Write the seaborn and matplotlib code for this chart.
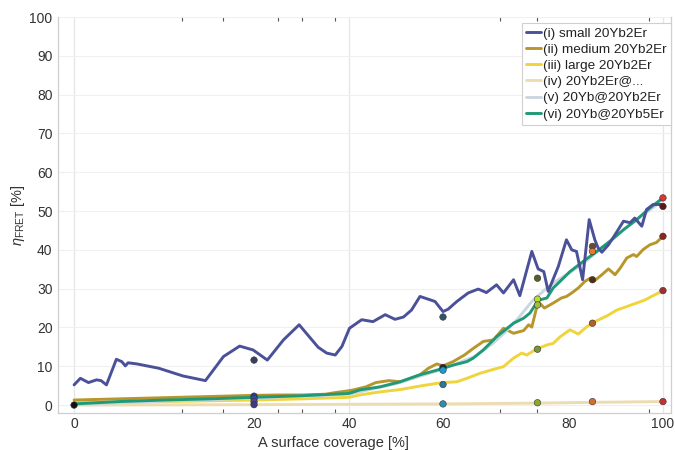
import numpy as np
import pandas as pd
import matplotlib
matplotlib.use("Agg")
import matplotlib.pyplot as plt
import seaborn as sns

# curves: A surface coverage [%] vs eta_FRET [%]
x_i = [0, 0.7, 1.6, 2.5, 3.0, 3.6, 4.1, 4.7, 5.3, 5.7, 6.0, 7.0, 9.4, 12.1, 14.6, 16.6, 18.4, 19.9,
       22.8, 26.2, 29.5, 33.5, 35.3, 37.1, 38.5, 40.1, 42.7, 45.1, 47.7, 49.8, 51.6, 53.3, 55.1,
       58.3, 60.0, 60.8, 62.2, 64.0, 65.6, 66.9, 68.5, 69.6, 71.2, 72.2, 74.1, 75.1, 76.0, 76.7,
       78.3, 79.6, 80.6, 81.6, 82.9, 84.3, 85.5, 86.2, 87.0, 88.4, 89.8, 91.6, 93.0, 94.0, 95.5,
       96.5, 97.9, 100]
y_i = [5.2, 6.9, 5.8, 6.5, 6.3, 5.2, 8.2, 11.8, 11.2, 10.1, 10.9, 10.6, 9.5, 7.5, 6.3, 12.5, 15.2, 14.2,
       11.6, 16.8, 20.7, 14.9, 13.4, 12.9, 15.1, 19.8, 22.0, 21.5, 23.3, 22.1, 22.7, 24.5, 28.0,
       26.7, 24.1, 24.7, 26.7, 28.9, 29.9, 29.0, 31.0, 28.9, 32.3, 28.2, 39.6, 35.1, 34.4, 29.3,
       35.7, 42.6, 40.0, 39.6, 32.3, 47.8, 42.6, 40.5, 39.4, 41.3, 43.9, 47.4, 47.0, 48.2, 46.1,
       50.4, 51.7, 51.7]

x_ii = [0, 5, 10, 15, 20, 25, 30, 35, 37, 40, 40.9, 43.6, 45.7, 48.5, 50.9, 55.1, 56.9, 58.7, 60,
        61.6, 63.4, 64.8, 66.4, 68.0, 69.6, 71.2, 72.8, 73.6, 74.1, 75.1, 76.1, 77.5, 78.8, 79.6,
        80.6, 82.0, 83.4, 84.5, 85.5, 87.0, 88.4, 89.8, 90.9, 92.3, 93.7, 94.4, 95.8, 97.2, 98.6, 100]
y_ii = [1.3, 1.6, 1.9, 2.2, 2.5, 2.6, 2.6, 2.8, 3.2, 3.7, 3.9, 4.7, 5.8, 6.3, 6.0, 7.8, 9.5, 10.6, 10.1,
        11.2, 12.9, 14.6, 16.4, 16.8, 19.8, 18.5, 19.2, 20.7, 20.1, 26.7, 25.0, 26.3, 27.6, 28.0,
        28.9, 30.2, 31.9, 32.7, 32.1, 33.6, 35.1, 33.6, 35.3, 37.9, 38.8, 38.3, 40.1, 41.3, 41.9, 43.5]

x_iii = [0, 10, 20, 30, 40, 42.3, 46.6, 50.9, 55.1, 58.7, 60, 62.2, 63.8, 65.9, 68.0, 69.6, 71.2,
         72.5, 73.3, 74.8, 76.5, 77.5, 78.6, 80.2, 82.0, 83.8, 85.5, 88.1, 90.2, 92.3, 94.4, 96.2,
         97.9, 100]
y_iii = [0.6, 0.9, 1.3, 1.6, 2.0, 2.6, 3.4, 4.0, 4.9, 5.6, 5.8, 6.0, 6.9, 8.2, 9.2, 9.9, 12.1,
         13.4, 12.9, 14.4, 15.5, 15.9, 17.6, 19.4, 18.3, 20.2, 21.5, 23.0, 24.5, 25.4, 26.3, 27.1,
         28.2, 29.5]

x_iv = [0, 20, 40, 60, 75, 85, 100]
y_iv = [0.0, 0.1, 0.2, 0.3, 0.5, 0.7, 0.9]

x_v = [0, 20, 40, 50, 60, 65, 68, 70, 72, 74, 75, 76, 78, 80, 83, 86, 89, 92, 95, 98, 100]
y_v = [0.2, 1.8, 2.8, 5.5, 9.3, 12.5, 16.0, 19.0, 22.5, 26.5, 28.0, 29.5, 32.0, 34.0, 36.5, 39.5,
       42.5, 45.5, 48.3, 51.0, 53.0]

x_vi = [0, 5, 10, 15, 20, 25, 30, 35, 40, 42.3, 46.6, 50.9, 55.1, 58.7, 60, 61.6, 63.8, 64.8, 66.4,
        68.5, 71.2, 72.8, 73.8, 75.1, 76.5, 77.5, 78.6, 80.2, 83.0, 85.9, 88.7, 91.6, 94.4, 97.2, 100]
y_vi = [0.3, 0.9, 1.3, 1.6, 2.0, 2.2, 2.4, 2.7, 3.0, 3.9, 4.7, 6.0, 7.8, 9.0, 9.5, 10.3, 11.2, 12.1,
        14.2, 17.6, 21.1, 22.4, 23.7, 27.0, 27.6, 30.2, 31.9, 34.4, 37.0, 39.6, 42.2, 45.2, 47.8,
        50.8, 53.4]

labels = ["(i) small 20Yb2Er", "(ii) medium 20Yb2Er", "(iii) large 20Yb2Er",
          "(iv) 20Yb2Er@...", "(v) 20Yb@20Yb2Er", "(vi) 20Yb@20Yb5Er"]
colors = ["#4b5199", "#b8962c", "#f0d43c", "#ecdcb2", "#cbd6e0", "#1f9a78"]

# measured points
dot_x = [0, 20, 20, 20, 20, 20, 60, 60, 60, 60, 60, 75, 75, 75, 75, 75,
         85, 85, 85, 85, 85, 100, 100, 100, 100, 100]
dot_y = [0, 11.6, 2.3, 1.7, 0.9, 0.1, 22.7, 9.7, 9.0, 5.3, 0.3, 32.7, 27.3, 25.8, 14.4, 0.6,
         40.9, 39.6, 32.3, 21.1, 0.9, 53.4, 51.2, 43.5, 29.5, 0.9]
dot_c = ["#111111", "#3a3d5e", "#2e3b8f", "#3848a8", "#4a4a90", "#3f3a78",
         "#2d5563", "#1e2a40", "#1e9ad0", "#2a7a96", "#2a8fb3",
         "#55602a", "#b8e02a", "#9cc23a", "#7a9630", "#8aaa2a",
         "#6b4a32", "#e8782a", "#4a2e1e", "#b0602a", "#d07030",
         "#e03333", "#5a1a1a", "#8a2820", "#a03030", "#c83030"]

xticks = [0, 20, 40, 60, 80, 100]
xminor = [0, 12, 16.5, 25, 30, 37, 40, 69, 75, 97, 100]

# the x axis of the original is stretched piecewise
knot_c = np.array([0, 20, 40, 60, 80, 100])
knot_p = np.array([0, 180, 275, 369, 495, 589])


def fwd(x):
    x = np.asarray(x, float)
    p = np.interp(x, knot_c, knot_p)
    p = np.where(x < 0, x * 9.0, p)
    return np.where(x > 100, 589 + (x - 100) * 4.7, p)


def inv(p):
    p = np.asarray(p, float)
    x = np.interp(p, knot_p, knot_c)
    x = np.where(p < 0, p / 9.0, x)
    return np.where(p > 589, 100 + (p - 589) / 4.7, x)


sns.set_style("white")
plt.rcParams["font.family"] = ["Liberation Sans", "DejaVu Sans"]
plt.rcParams["mathtext.fontset"] = "custom"
plt.rcParams["mathtext.rm"] = "Liberation Sans"
plt.rcParams["mathtext.it"] = "Liberation Sans:italic"

fig = plt.figure(figsize=(6.75, 4.5), dpi=100)
ax = fig.add_axes([0.086, 0.082, 0.908, 0.88])
ax.set_xscale("function", functions=(fwd, inv))

series = [(x_i, y_i), (x_ii, y_ii), (x_iii, y_iii), (x_iv, y_iv), (x_v, y_v), (x_vi, y_vi)]
zorders = [6, 4, 3, 2, 4.5, 5]
for (xs, ys), lab, col, z in zip(series, labels, colors, zorders):
    sns.lineplot(x=xs, y=ys, ax=ax, color=col, lw=2.1, label=lab,
                 sort=False, estimator=None, zorder=z)

ax.scatter(dot_x, dot_y, s=22, c=dot_c, edgecolors="#333333", linewidths=0.4, zorder=8)

ax.set_xlim(-1.78, 101.7)
ax.set_ylim(-2.07, 100)

ax.set_xticks(xticks)
ax.set_xticks(xminor, minor=True)
ax.set_yticks(np.arange(0, 101, 10))
ax.tick_params(axis="x", which="major", length=0, pad=3, labelsize=10, labelcolor="#333333")
ax.tick_params(axis="x", which="minor", direction="in", length=3, color="#555555",
               top=True, bottom=True, width=0.8)
ax.tick_params(axis="y", which="major", direction="in", length=4, color="#bbbbbb",
               pad=4, labelsize=10, labelcolor="#333333")

ax.grid(axis="y", color="#f0f0f0", lw=0.8, zorder=0)
for xv in [0, 40, 100]:
    ax.axvline(xv, color="#e6e6e6", lw=0.9, zorder=0)

for side in ["left", "bottom", "right"]:
    ax.spines[side].set_color("#cfcfcf")
    ax.spines[side].set_linewidth(0.9)
ax.spines["top"].set_visible(False)

ax.set_xlabel("A surface coverage [%]", fontsize=10.5, color="#333333")
ax.xaxis.set_label_coords(0.45, -0.058)
ax.set_ylabel(r"$\eta_{\mathrm{FRET}}$ [%]", fontsize=10.5, color="#333333")
ax.yaxis.set_label_coords(-0.05, 0.5)

leg = ax.legend(loc="upper right", bbox_to_anchor=(1.0, 0.985), borderaxespad=0,
                fontsize=9.7, handlelength=1.1, handletextpad=0.2, labelspacing=0.28,
                frameon=True, fancybox=False, framealpha=1, edgecolor="#d0d0d0",
                borderpad=0.3)
leg.get_frame().set_linewidth(0.8)
for t in leg.get_texts():
    t.set_color("#222222")

fig.savefig("out.png", dpi=100)
